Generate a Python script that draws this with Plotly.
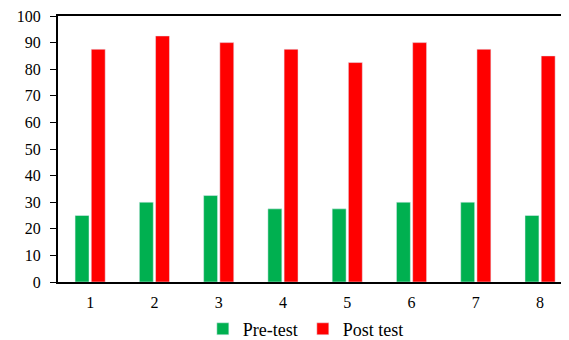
import plotly.graph_objects as go

categories = ["1", "2", "3", "4", "5", "6", "7", "8"]
pre_test = [25, 30, 32.5, 27.5, 27.5, 30, 30, 25]
post_test = [87.5, 92.5, 90, 87.5, 82.5, 90, 87.5, 85]
y_ticks = [0, 10, 20, 30, 40, 50, 60, 70, 80, 90, 100]

x_pos = [int(c) for c in categories]

fig = go.Figure()
fig.add_trace(go.Bar(x=x_pos, y=pre_test, name="Pre-test", marker_color="#00B050"))
fig.add_trace(go.Bar(x=x_pos, y=post_test, name="Post test", marker_color="#FF0000"))

# page body has an 8px default margin, so the figure is sized to end at the window edge
fig.update_layout(
    width=561, height=332,
    margin=dict(l=50, r=0, t=8, b=58, autoexpand=False),
    paper_bgcolor="white", plot_bgcolor="white",
    font=dict(family="Liberation Serif", size=16, color="black"),
    barmode="group", bargap=0.496, bargroupgap=0.14,
    showlegend=True,
    legend=dict(orientation="h", x=0.485, xanchor="center", y=-0.177, yanchor="middle",
                font=dict(family="Liberation Serif", size=18), itemwidth=30,
                traceorder="normal"),
)
fig.update_xaxes(
    range=[0.5, 8.45], tickmode="array", tickvals=x_pos, ticktext=categories,
    showline=True, linecolor="black", linewidth=2, mirror=True,
    ticks="outside", ticklen=5, tickcolor="rgba(0,0,0,0)",
    showgrid=False, zeroline=False, automargin=False,
    tickfont=dict(family="Liberation Serif", size=16),
)
fig.update_yaxes(
    range=[0, 100], tickmode="array", tickvals=y_ticks,
    showline=True, linecolor="black", linewidth=2,
    ticks="outside", ticklen=6, tickwidth=1, tickcolor="black",
    ticklabelstandoff=6, automargin=False, ticklabeloverflow="allow",
    showgrid=False, zeroline=False,
    tickfont=dict(family="Liberation Serif", size=16),
)

fig.write_html("out.html")
